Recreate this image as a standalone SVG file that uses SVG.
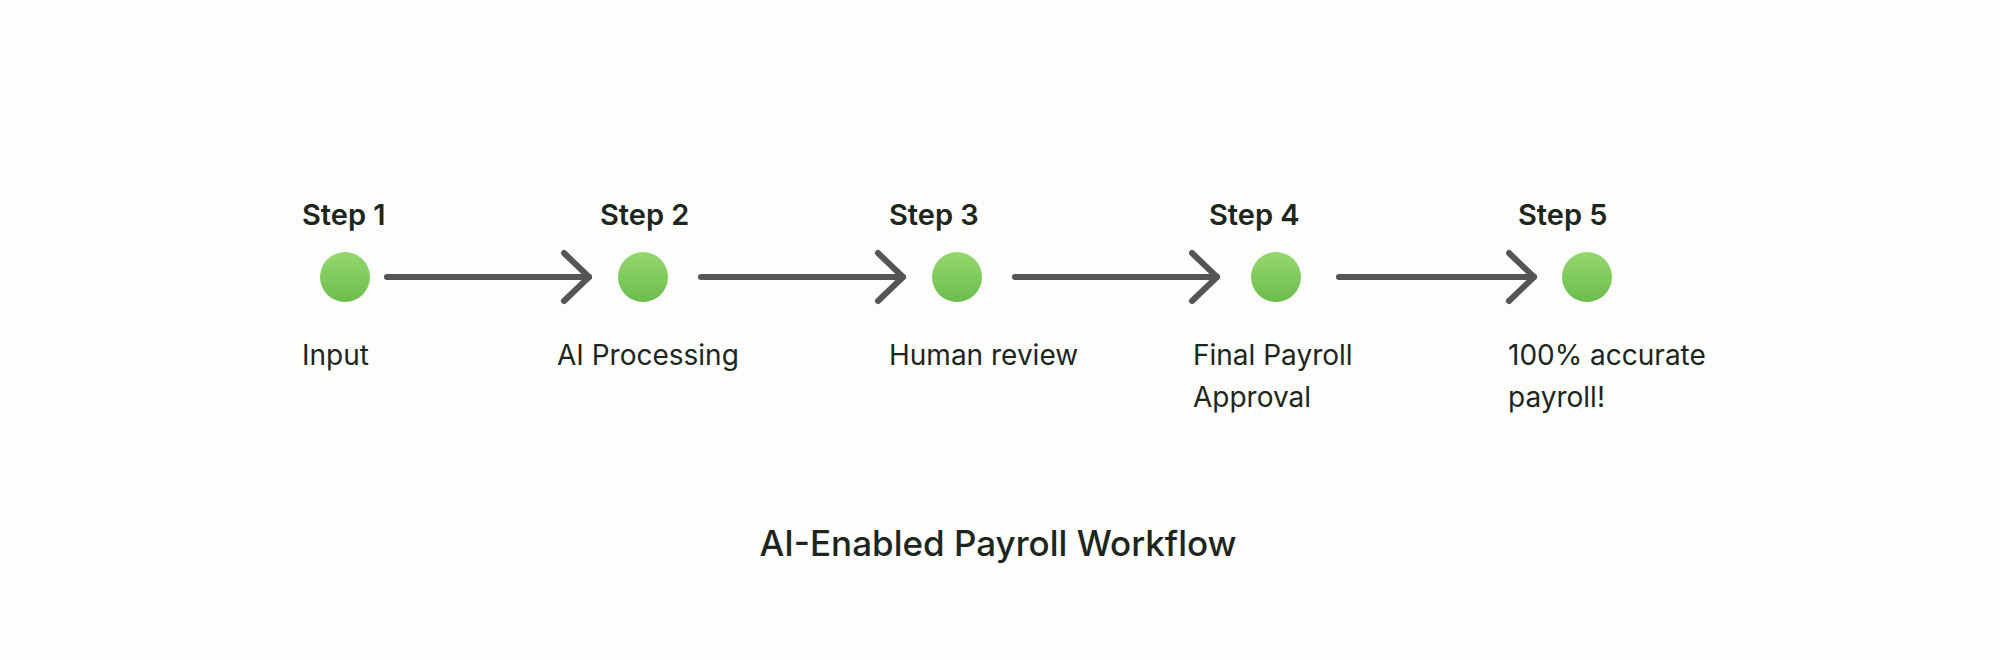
<svg xmlns="http://www.w3.org/2000/svg" width="2000" height="660" viewBox="0 0 2000 660">
<defs>
<linearGradient id="g" x1="0" y1="0" x2="0" y2="1"><stop offset="0" stop-color="#94d86e"/><stop offset="1" stop-color="#6cbd4c"/></linearGradient>
<marker id="ah" viewBox="0 0 20 20" refX="17" refY="10" markerWidth="20" markerHeight="20" markerUnits="userSpaceOnUse" orient="auto" overflow="visible">
<path d="M-8,-14 L17,10 L-8,34" fill="none" stroke="#555" stroke-width="6" stroke-linecap="round" stroke-linejoin="round"/>
</marker>
<style>
.step{font-family:Inter,"Liberation Sans",sans-serif;font-size:29px;font-weight:600;fill:#1c261c}
.lbl{font-family:Inter,"Liberation Sans",sans-serif;font-size:28px;fill:#1c261c}
.title{font-family:Inter,"Liberation Sans",sans-serif;font-size:35px;font-weight:500;fill:#1c261c}
.dot{fill:url(#g)}
.conn{stroke:#555;stroke-width:6;stroke-linecap:round;fill:none;marker-end:url(#ah)}
</style>
</defs>
<rect width="2000" height="660" fill="#fdfdfc"/>
<g id="connectors">
<line class="conn" x1="387" y1="277" x2="589" y2="277"/>
<line class="conn" x1="701" y1="277" x2="903" y2="277"/>
<line class="conn" x1="1015" y1="277" x2="1217" y2="277"/>
<line class="conn" x1="1339" y1="277" x2="1534" y2="277"/>
</g>
<g id="n1"><text class="step" x="302" y="225">Step 1</text><circle class="dot" cx="345" cy="277" r="25"/><text class="lbl" x="302" y="365">Input</text></g>
<g id="n2"><text class="step" x="600" y="225">Step 2</text><circle class="dot" cx="643" cy="277" r="25"/><text class="lbl" x="557" y="365">AI Processing</text></g>
<g id="n3"><text class="step" x="889" y="225">Step 3</text><circle class="dot" cx="957" cy="277" r="25"/><text class="lbl" x="889" y="365">Human review</text></g>
<g id="n4"><text class="step" x="1209" y="225">Step 4</text><circle class="dot" cx="1276" cy="277" r="25"/><text class="lbl" x="1193" y="365">Final Payroll</text><text class="lbl" x="1193" y="407">Approval</text></g>
<g id="n5"><text class="step" x="1518" y="225">Step 5</text><circle class="dot" cx="1587" cy="277" r="25"/><text class="lbl" x="1508" y="365">100% accurate</text><text class="lbl" x="1508" y="407">payroll!</text></g>
<text class="title" x="998" y="556" text-anchor="middle">AI-Enabled Payroll Workflow</text>
</svg>
